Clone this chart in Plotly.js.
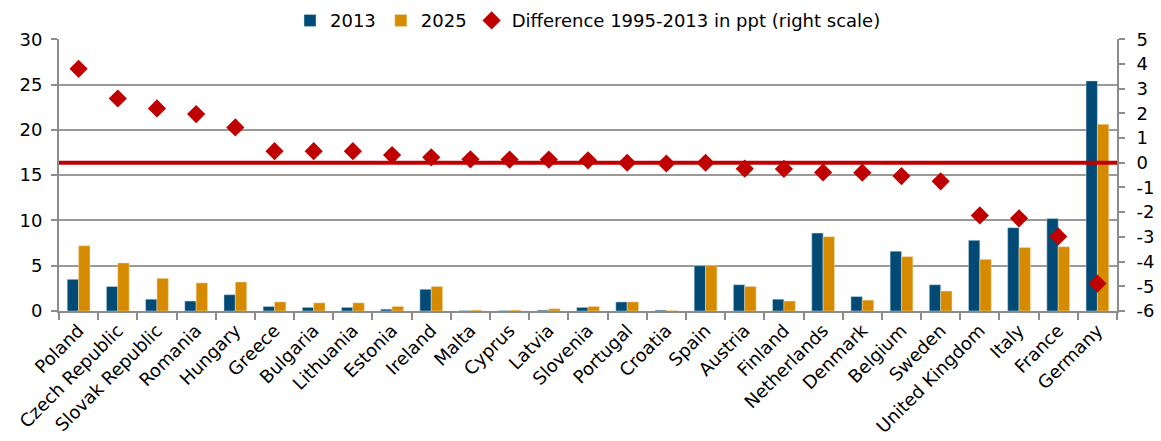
<!DOCTYPE html>
<html>
<head>
<meta charset="utf-8">
<script src="https://cdn.plot.ly/plotly-3.0.1.min.js"></script>
<style>
  html, body { margin: 0; padding: 0; background: #fff; }
  #chart { width: 1161px; height: 441px; }
</style>
</head>
<body>
<div id="chart"></div>
<script>
const countries = ["Poland","Czech Republic","Slovak Republic","Romania","Hungary","Greece","Bulgaria","Lithuania","Estonia","Ireland","Malta","Cyprus","Latvia","Slovenia","Portugal","Croatia","Spain","Austria","Finland","Netherlands","Denmark","Belgium","Sweden","United Kingdom","Italy","France","Germany"];
const share2013 = [3.5, 2.7, 1.3, 1.1, 1.8, 0.5, 0.4, 0.4, 0.2, 2.4, 0.05, 0.05, 0.1, 0.4, 1.0, 0.1, 5.0, 2.9, 1.3, 8.6, 1.6, 6.6, 2.9, 7.8, 9.2, 10.2, 25.4];
const share2025 = [7.2, 5.3, 3.6, 3.1, 3.2, 1.0, 0.9, 0.9, 0.5, 2.7, 0.1, 0.1, 0.25, 0.5, 1.0, 0.05, 5.0, 2.7, 1.1, 8.2, 1.2, 6.0, 2.2, 5.7, 7.0, 7.1, 20.6];
const diff = [3.8, 2.6, 2.2, 1.97, 1.43, 0.47, 0.47, 0.47, 0.31, 0.22, 0.14, 0.13, 0.13, 0.1, 0.0, -0.03, 0.0, -0.24, -0.25, -0.39, -0.4, -0.54, -0.75, -2.13, -2.25, -2.98, -4.89];
const rightTickVals = [-6, -5, -4, -3, -2, -1, 0, 1, 2, 3, 4, 5];
const rightTickText = ["-6", "-5", "-4", "-3", "-2", "-1", "0", "1", "2", "3", "4", "5"];

const FONT = "DejaVu Sans, sans-serif";
const FS = 18;

const traces = [
  {
    type: "bar", name: "2013", x: countries, y: share2013,
    marker: { color: "#004A75", line: { color: "#cfe0ea", width: 0.5 } },
    yaxis: "y"
  },
  {
    type: "bar", name: "2025", x: countries, y: share2025,
    marker: { color: "#D68A00", line: { color: "#f3dcb0", width: 0.5 } },
    yaxis: "y"
  },
  {
    type: "scatter", mode: "markers", name: "Difference 1995-2013 in ppt (right scale)",
    x: countries, y: diff, yaxis: "y2",
    marker: { symbol: "diamond", size: 14, color: "#C00000" }
  }
];

const layout = {
  width: 1161, height: 441,
  margin: { l: 59, r: 44, t: 39, b: 130 },
  paper_bgcolor: "#fff", plot_bgcolor: "#fff",
  font: { family: FONT, size: FS, color: "#000" },
  barmode: "group",
  bargap: 0.42,
  bargroupgap: 0,
  showlegend: true,
  legend: {
    orientation: "h",
    xref: "paper", x: 0.5, xanchor: "center",
    yref: "container", y: 0.995, yanchor: "top",
    font: { family: FONT, size: FS, color: "#000" },
    itemwidth: 30, tracegroupgap: 0, traceorder: "normal",
    bgcolor: "rgba(0,0,0,0)"
  },
  xaxis: {
    type: "category",
    range: [-0.5, countries.length - 0.5],
    tickangle: -45,
    tickson: "boundaries",
    ticks: "outside", ticklen: 7, tickwidth: 2, tickcolor: "#8c8c8c",
    showline: true, linecolor: "#8c8c8c", linewidth: 2,
    showgrid: false,
    tickfont: { family: FONT, size: FS, color: "#000" },
    automargin: false
  },
  yaxis: {
    range: [0, 30], dtick: 5, tick0: 0,
    showgrid: true, gridcolor: "#999999", gridwidth: 2,
    zeroline: false,
    showline: true, linecolor: "#8c8c8c", linewidth: 2,
    ticks: "outside", ticklen: 6, tickwidth: 2, tickcolor: "#8c8c8c",
    ticklabelstandoff: 5,
    tickfont: { family: FONT, size: FS, color: "#000" },
    automargin: false
  },
  yaxis2: {
    overlaying: "y", side: "right",
    range: [-6, 5],
    tickmode: "array", tickvals: rightTickVals, ticktext: rightTickText,
    showgrid: false, zeroline: false,
    showline: true, linecolor: "#8c8c8c", linewidth: 2,
    ticks: "outside", ticklen: 6, tickwidth: 2, tickcolor: "#8c8c8c",
    ticklabelstandoff: 8,
    tickfont: { family: FONT, size: FS, color: "#000" },
    automargin: false
  },
  shapes: [
    {
      type: "line", xref: "paper", x0: 0, x1: 1, yref: "y2", y0: 0, y1: 0,
      line: { color: "#C00000", width: 4 }, layer: "above"
    }
  ]
};

Plotly.newPlot("chart", traces, layout, { displayModeBar: false, staticPlot: true });
</script>
</body>
</html>
